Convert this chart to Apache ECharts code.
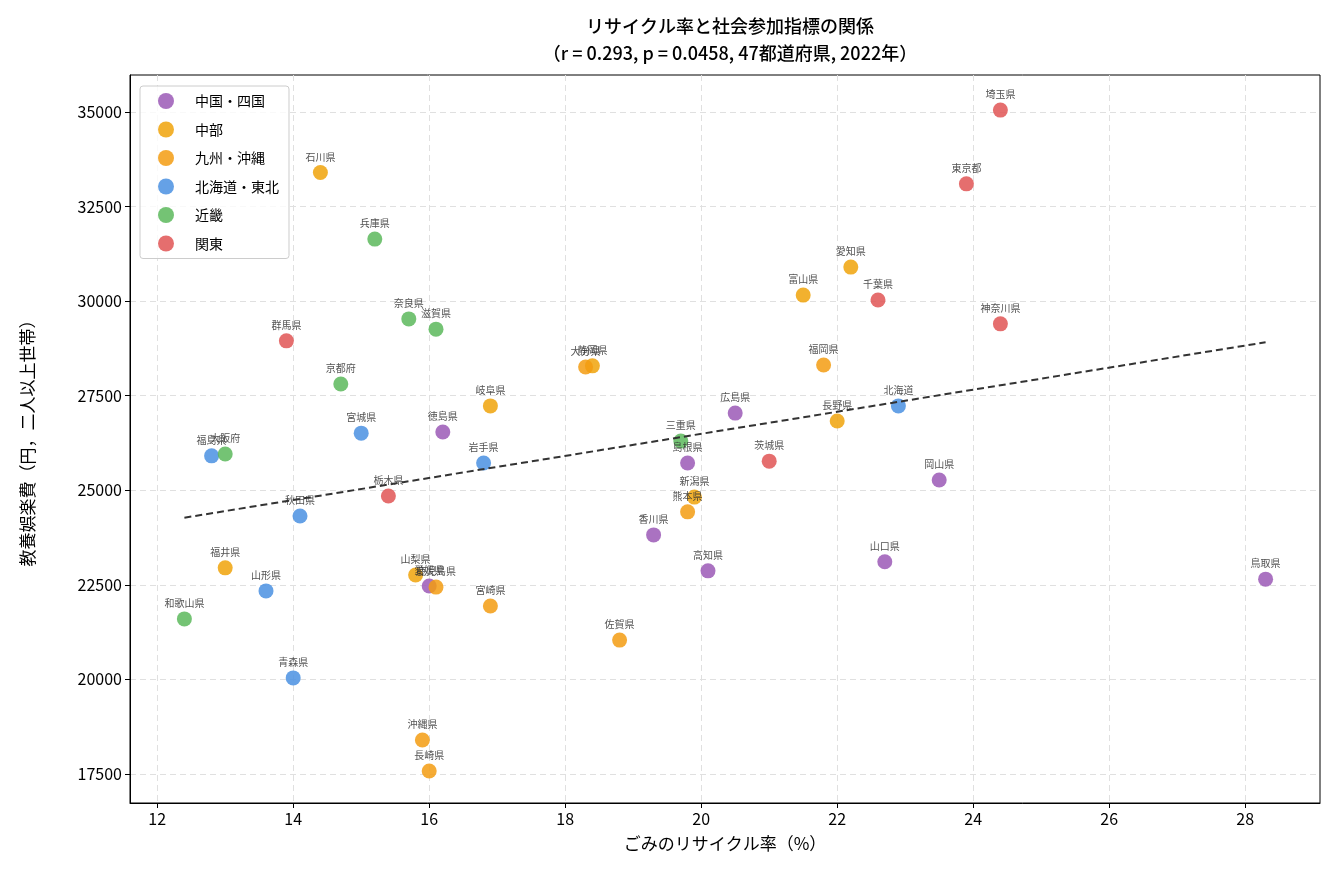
<!DOCTYPE html>
<html>
<head>
<meta charset="utf-8">
<script src="https://cdn.jsdelivr.net/npm/echarts@6/dist/echarts.min.js"></script>
<style>html,body{margin:0;padding:0;background:#fff}#chart{width:1334px;height:885px}</style>
</head>
<body>
<div id="chart"></div>
<script>
const regions = ['中国・四国', '中部', '九州・沖縄', '北海道・東北', '近畿', '関東'];
const regionColors = ['#9b59b6', '#f0a30a', '#f39c12', '#4a90e2', '#5cb85c', '#e05555'];

// [recycle rate %, culture spending yen, name]
const chugokuShikoku = [[16.2, 26540, '徳島県'], [19.8, 25720, '島根県'], [20.5, 27040, '広島県'], [23.5, 25270, '岡山県'], [19.3, 23820, '香川県'], [20.1, 22870, '高知県'], [22.7, 23110, '山口県'], [28.3, 22650, '鳥取県'], [16.0, 22470, '愛媛県']];
const chubu = [[14.4, 33400, '石川県'], [22.2, 30900, '愛知県'], [21.5, 30160, '富山県'], [18.4, 28290, '静岡県'], [16.9, 27230, '岐阜県'], [22.0, 26830, '長野県'], [19.9, 24820, '新潟県'], [13.0, 22950, '福井県'], [15.8, 22760, '山梨県']];
const kyushuOkinawa = [[18.3, 28260, '大分県'], [21.8, 28310, '福岡県'], [19.8, 24430, '熊本県'], [16.1, 22440, '鹿児島県'], [16.9, 21940, '宮崎県'], [18.8, 21040, '佐賀県'], [15.9, 18400, '沖縄県'], [16.0, 17580, '長崎県']];
const hokkaidoTohoku = [[22.9, 27230, '北海道'], [15.0, 26510, '宮城県'], [12.8, 25910, '福島県'], [16.8, 25720, '岩手県'], [14.1, 24320, '秋田県'], [13.6, 22340, '山形県'], [14.0, 20040, '青森県']];
const kinki = [[15.2, 31640, '兵庫県'], [15.7, 29530, '奈良県'], [16.1, 29260, '滋賀県'], [14.7, 27810, '京都府'], [13.0, 25960, '大阪府'], [19.7, 26300, '三重県'], [12.4, 21600, '和歌山県']];
const kanto = [[24.4, 35050, '埼玉県'], [23.9, 33100, '東京都'], [22.6, 30030, '千葉県'], [24.4, 29400, '神奈川県'], [13.9, 28950, '群馬県'], [21.0, 25770, '茨城県'], [15.4, 24850, '栃木県']];

const xTicks = [12, 14, 16, 18, 20, 22, 24, 26, 28];
const yTicks = [17500, 20000, 22500, 25000, 27500, 30000, 32500, 35000];

const groups = [chugokuShikoku, chubu, kyushuOkinawa, hokkaidoTohoku, kinki, kanto];

// least squares fit over all prefectures
const all = groups.flat();
const n = all.length;
const mx = all.reduce((s, d) => s + d[0], 0) / n;
const my = all.reduce((s, d) => s + d[1], 0) / n;
let sxy = 0, sxx = 0;
all.forEach(d => { sxy += (d[0] - mx) * (d[1] - my); sxx += (d[0] - mx) ** 2; });
const slope = sxy / sxx;
const icpt = my - slope * mx;
const xmin = Math.min(...all.map(d => d[0]));
const xmax = Math.max(...all.map(d => d[0]));

const font = '"Noto Sans CJK JP", "Noto Sans", sans-serif';
const chart = echarts.init(document.getElementById('chart'));

const series = groups.map((g, i) => ({
  name: regions[i],
  type: 'scatter',
  symbolSize: 15,
  itemStyle: { color: regionColors[i], opacity: 0.85 },
  label: {
    show: true, position: 'top', distance: 3,
    formatter: p => p.value[2], fontSize: 10, color: '#333', fontFamily: font
  },
  emphasis: { disabled: true },
  data: g
}));
series.push({
  type: 'line',
  symbol: 'none',
  lineStyle: { color: '#333', width: 2, type: [7, 4] },
  data: [[xmin, icpt + slope * xmin], [xmax, icpt + slope * xmax]],
  z: 5
});

chart.setOption({
  animation: false,
  textStyle: { fontFamily: font },
  title: {
    text: 'リサイクル率と社会参加指標の関係\n（r = 0.293, p = 0.0458, 47都道府県, 2022年）',
    left: 725, textAlign: 'center', top: 8,
    textStyle: { fontSize: 18, fontWeight: 500, color: '#000', lineHeight: 27, fontFamily: font }
  },
  legend: {
    orient: 'vertical', left: 140, top: 86,
    data: regions,
    icon: 'circle', itemWidth: 16, itemHeight: 16, itemGap: 12.5,
    padding: [7, 10, 7, 18],
    borderColor: '#ccc', borderWidth: 1, borderRadius: 3,
    backgroundColor: 'rgba(255,255,255,0.8)',
    textStyle: { fontSize: 14, color: '#000', fontFamily: font, padding: [0, 0, 0, 16] }
  },
  grid: { left: 130, right: 14, top: 75, bottom: 82, show: true, borderColor: '#000', borderWidth: 1 },
  xAxis: {
    type: 'value', min: 11.6, max: 29.1,
    name: 'ごみのリサイクル率（%）', nameLocation: 'middle', nameGap: 32,
    nameTextStyle: { fontSize: 17, color: '#000', fontFamily: font },
    axisLine: { show: true, lineStyle: { color: '#000' } },
    axisTick: { show: true, customValues: xTicks, lineStyle: { color: '#000' } },
    axisLabel: { customValues: xTicks, fontSize: 16, color: '#000', fontFamily: font },
    splitLine: { show: true, lineStyle: { color: '#e0e0e0', type: [6, 4] } }
  },
  yAxis: {
    type: 'value', min: 16733, max: 35978,
    name: '教養娯楽費（円，二人以上世帯）', nameLocation: 'middle', nameGap: 94,
    nameTextStyle: { fontSize: 17, color: '#000', fontFamily: font },
    axisLine: { show: true, lineStyle: { color: '#000' } },
    axisTick: { show: true, customValues: yTicks, lineStyle: { color: '#000' } },
    axisLabel: { customValues: yTicks, formatter: v => String(v), fontSize: 16, color: '#000', fontFamily: font },
    splitLine: { show: true, lineStyle: { color: '#e0e0e0', type: [6, 4] } }
  },
  series: series
});
</script>
</body>
</html>
